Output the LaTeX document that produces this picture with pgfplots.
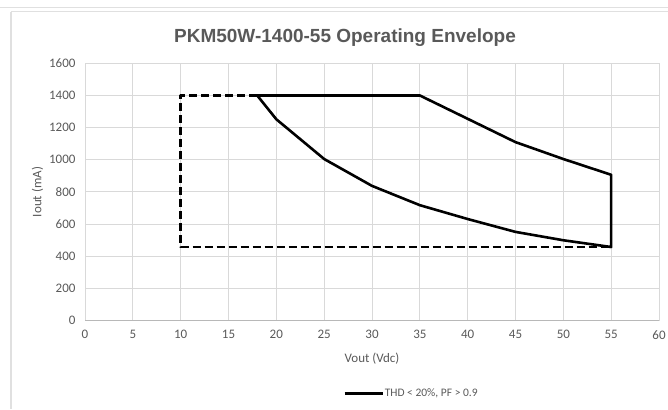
\documentclass[border=0pt]{standalone}
\usepackage{fontspec}
\setmainfont{Carlito}
\newfontfamily\titlefont{Liberation Sans}
\usepackage{pgfplots}
\pgfplotsset{compat=1.18}
\definecolor{gridc}{HTML}{D9D9D9}
\definecolor{txt}{HTML}{595959}
\definecolor{framec}{HTML}{E0E0E0}
\begin{document}
\begin{tikzpicture}
\path[use as bounding box] (0pt,0pt) rectangle (668pt,409pt);
% frame lines of the sheet
\draw[framec, line width=1.2pt] (0pt,401.5pt) -- (668pt,401.5pt);
\draw[framec, line width=1.2pt] (11pt,397.3pt) -- (668pt,397.3pt);
\draw[framec, line width=1.2pt] (11pt,397.3pt) -- (11pt,0pt);
% title
\node[anchor=base, text=txt, font={\titlefont\bfseries\fontsize{19}{22}\selectfont}] at (345pt,366pt) {PKM50W-1400-55 Operating Envelope};
\begin{axis}[
  at={(85pt,88.3pt)}, anchor=south west,
  width=574pt, height=257.4pt, scale only axis=true,
  xmin=0, xmax=60, ymin=0, ymax=1600,
  xtick={0,5,...,60}, ytick={0,200,...,1600},
  grid=major,
  grid style={gridc, line width=1pt},
  axis line style={draw=none},
  major tick length=0pt,
  extra y ticks={0}, extra y tick labels={},
  extra y tick style={grid style={color=black!28, line width=1pt}},
  tick label style={text=txt, font=\fontsize{13}{15}\selectfont},
  /pgf/number format/assume math mode=true,
  /pgf/number format/1000 sep={},
  yticklabel style={xshift=-6pt},
  xticklabel style={yshift=-6pt},
  xlabel={Vout (Vdc)},
  ylabel={Iout (mA)},
  label style={text=txt, font=\fontsize{13}{15}\selectfont},
  xlabel style={at={(axis description cs:0.5,-0.1476)}, anchor=center},
  ylabel style={at={(axis description cs:-0.0828,0.5)}, anchor=center, rotate=0},
  legend style={draw=none, fill=none, at={(axis description cs:0.4495,-0.2817)}, anchor=west, inner sep=0pt,
    font=\fontsize{11.5}{13}\selectfont, text=txt,
    nodes={inner sep=1pt}},
  legend image code/.code={\draw[#1, line width=2.6pt] (0pt,0pt) -- (38pt,0pt);},
  clip=false,
]
\addplot[black, line width=2.6pt, dash pattern=on 8pt off 4pt, line join=round, forget plot]
  coordinates {(18,1400) (10,1400) (10,458) (55,458)};
\addplot[black, line width=2.6pt, line join=round]
  coordinates {(18,1400) (35,1400) (40,1255) (45,1110) (50,1005) (55,907) (55,458)
    (50,500) (45,552) (40,632) (35,718) (30,838) (25,1005) (20,1252) (18,1400)};
\addlegendentry{THD < 20\%, PF > 0.9}
\end{axis}
\end{tikzpicture}
\end{document}
